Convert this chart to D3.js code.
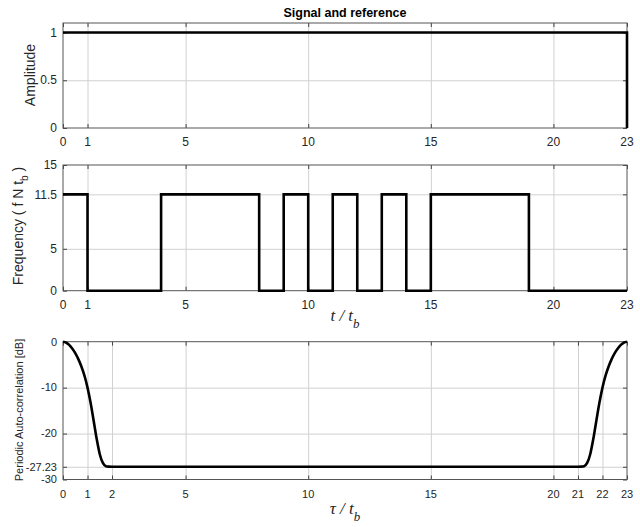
<!DOCTYPE html>
<html>
<head>
<meta charset="utf-8">
<script src="https://cdn.jsdelivr.net/npm/d3@7"></script>
<style>
  body { margin: 0; background: #fff; }
  text { font-family: "Liberation Sans", Arial, sans-serif; fill: #262626; }
  .grid line { stroke: #d0d0d0; stroke-width: 1; }
  .grid path { display: none; }
  .tk line { stroke: #444; }
  .tk path { display: none; }
  .tk text { display: none; }
</style>
</head>
<body>
<script>
// data gelezen uit de figuur
var xTicksTop = [0, 1, 5, 10, 15, 20, 23];
var xTicksBottom = [0, 1, 2, 5, 10, 15, 20, 21, 22, 23];

// amplitude: constant 1, valt naar 0 op het einde
var ampTime = [0, 23, 23];
var ampValue = [1, 1, 0];
var ampTicks = [0, 0.5, 1];

// frequentie per bit (23 bits)
var freqBits = [11.5, 0, 0, 0, 11.5, 11.5, 11.5, 11.5, 0, 11.5, 0, 11.5, 0, 11.5, 0, 11.5, 11.5, 11.5, 11.5, 0, 0, 0, 0];
var freqTicks = [0, 5, 11.5, 15];

// periodieke autocorrelatie (dB), begin en einde, daartussen vlak op -27.23
var acTau = [0, 0.125, 0.25, 0.375, 0.5, 0.625, 0.75, 0.875, 1, 1.125, 1.25, 1.375, 1.5, 1.625, 1.75, 1.875, 2,
             21, 21.125, 21.25, 21.375, 21.5, 21.625, 21.75, 21.875, 22, 22.125, 22.25, 22.375, 22.5, 22.625, 22.75, 22.875, 23];
var acDb = [0, -0.2, -0.7, -1.5, -2.5, -3.8, -5.4, -7.4, -10.0, -13.3, -17.2, -21.2, -24.5, -26.4, -27.1, -27.2, -27.23,
            -27.23, -27.2, -27.1, -26.4, -24.5, -21.2, -17.2, -13.3, -10.0, -7.4, -5.4, -3.8, -2.5, -1.5, -0.7, -0.2, 0];
var acTicks = [-30, -27.23, -20, -10, 0];

var W = 640, H = 527;
var left = 63, right = 627;

var svg = d3.select("body").append("svg")
    .attr("width", W)
    .attr("height", H);

var x = d3.scaleLinear().domain([0, 23]).range([left, right]);

// maak een paneel met grid, rand en labels
function panel(top, bottom, yDomain, yTicks, xTicks, fs) {
  var y = d3.scaleLinear().domain(yDomain).range([bottom, top]);
  var g = svg.append("g");
  var h = bottom - top, w = right - left;

  // grid
  g.append("g").attr("class", "grid")
      .attr("transform", "translate(0," + bottom + ")")
      .call(d3.axisBottom(x).tickValues(xTicks.filter(function(d) { return d > 0 && d < 23; }))
        .tickSize(-h).tickFormat(""));
  g.append("g").attr("class", "grid")
      .attr("transform", "translate(" + left + ",0)")
      .call(d3.axisLeft(y).tickValues(yTicks.filter(function(d) { return d > yDomain[0] && d < yDomain[1]; }))
        .tickSize(-w).tickFormat(""));

  // kleine tickjes binnen op alle kanten
  g.append("g").attr("class", "tk").attr("transform", "translate(0," + bottom + ")")
      .call(d3.axisBottom(x).tickValues(xTicks).tickSize(-4));
  g.append("g").attr("class", "tk").attr("transform", "translate(0," + top + ")")
      .call(d3.axisTop(x).tickValues(xTicks).tickSize(-4));
  g.append("g").attr("class", "tk").attr("transform", "translate(" + left + ",0)")
      .call(d3.axisLeft(y).tickValues(yTicks).tickSize(-4));
  g.append("g").attr("class", "tk").attr("transform", "translate(" + right + ",0)")
      .call(d3.axisRight(y).tickValues(yTicks).tickSize(-4));

  // tick labels
  g.selectAll(".xl").data(xTicks).enter().append("text")
      .attr("x", function(d) { return x(d); })
      .attr("y", bottom + 18)
      .attr("text-anchor", "middle")
      .style("font-size", fs + "px")
      .text(function(d) { return d; });
  g.selectAll(".yl").data(yTicks).enter().append("text")
      .attr("x", left - 6)
      .attr("y", function(d) { return y(d); })
      .attr("dy", "0.35em")
      .attr("text-anchor", "end")
      .style("font-size", fs + "px")
      .text(function(d) { return d; });

  // rand
  g.append("rect")
      .attr("x", left).attr("y", top)
      .attr("width", w).attr("height", h)
      .attr("fill", "none")
      .attr("stroke", "#555")
      .attr("stroke-width", 1);

  return { g: g, y: y };
}

// paneel 1: amplitude
var p1 = panel(23, 128, [0, 1.1], ampTicks, xTicksTop, 12);
p1.g.append("path")
    .datum(d3.range(ampTime.length))
    .attr("fill", "none").attr("stroke", "#000").attr("stroke-width", 2.6)
    .attr("d", d3.line()
      .x(function(i) { return x(ampTime[i]); })
      .y(function(i) { return p1.y(ampValue[i]); }));

svg.append("text")
    .attr("x", (left + right) / 2).attr("y", 17)
    .attr("text-anchor", "middle")
    .style("font-size", "12.5px").style("font-weight", "bold")
    .style("fill", "#000")
    .text("Signal and reference");

svg.append("text")
    .attr("transform", "translate(35," + 75 + ") rotate(-90)")
    .attr("text-anchor", "middle")
    .style("font-size", "14px")
    .text("Amplitude");

// paneel 2: frequentie
var p2 = panel(165, 290.7, [0, 15], freqTicks, xTicksTop, 12);
var freqPts = freqBits.map(function(v, i) { return [i, v]; });
freqPts.push([23, freqBits[freqBits.length - 1]]);
p2.g.append("path")
    .datum(freqPts)
    .attr("fill", "none").attr("stroke", "#000").attr("stroke-width", 2.6)
    .attr("d", d3.line().curve(d3.curveStepAfter)
      .x(function(d) { return x(d[0]); })
      .y(function(d) { return p2.y(d[1]); }));

var fl = svg.append("text")
    .attr("transform", "translate(23," + 226 + ") rotate(-90)")
    .attr("text-anchor", "middle")
    .style("font-size", "14px");
fl.append("tspan").text("Frequency ( f N t");
fl.append("tspan").attr("dy", 5).style("font-size", "10px").text("b");
fl.append("tspan").attr("dy", -5).text(" )");

var xl1 = svg.append("text")
    .attr("x", 345).attr("y", 321)
    .attr("text-anchor", "middle")
    .style("font-family", "'Liberation Serif', 'Times New Roman', serif")
    .style("font-style", "italic").style("font-size", "17px");
xl1.append("tspan").text("t / t");
xl1.append("tspan").attr("dy", 7).style("font-size", "13px").text("b");

// paneel 3: autocorrelatie
var p3 = panel(341.7, 479.5, [-30, 0], acTicks, xTicksBottom, 11);
var acLine = d3.line().curve(d3.curveMonotoneX)
    .x(function(i) { return x(acTau[i]); })
    .y(function(i) { return p3.y(acDb[i]); });
p3.g.append("path")
    .datum(d3.range(acTau.length))
    .attr("fill", "none").attr("stroke", "#000").attr("stroke-width", 2.6)
    .attr("d", acLine);

svg.append("text")
    .attr("transform", "translate(23," + 410 + ") rotate(-90)")
    .attr("text-anchor", "middle")
    .style("font-size", "11px")
    .text("Periodic Auto-correlation [dB]");

var xl2 = svg.append("text")
    .attr("x", 345).attr("y", 514)
    .attr("text-anchor", "middle")
    .style("font-family", "'Liberation Serif', 'Times New Roman', serif")
    .style("font-style", "italic").style("font-size", "17px");
xl2.append("tspan").text("\u03C4 / t");
xl2.append("tspan").attr("dy", 7).style("font-size", "13px").text("b");
</script>
</body>
</html>
